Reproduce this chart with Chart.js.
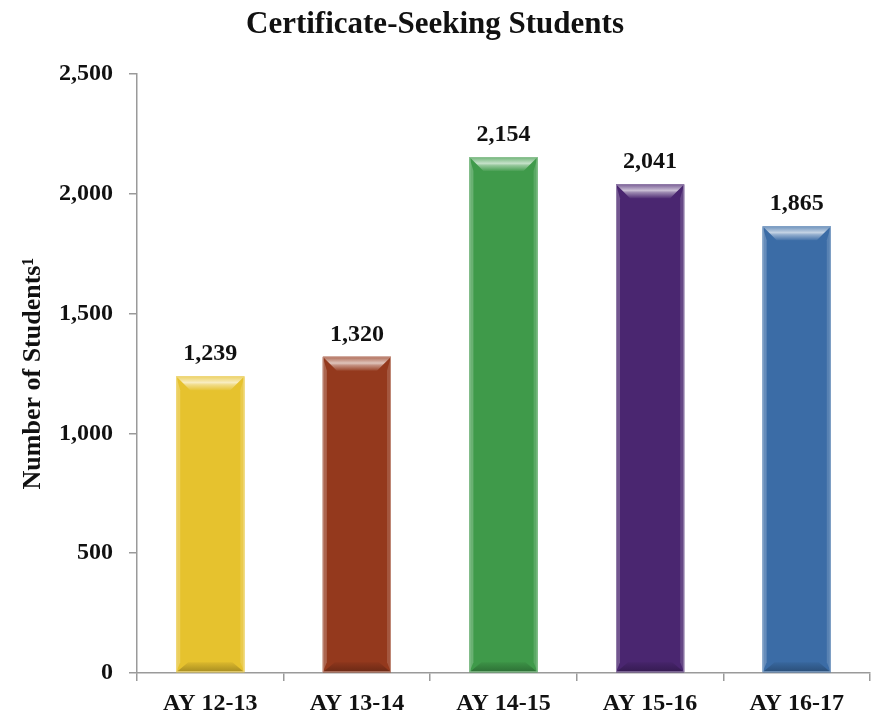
<!DOCTYPE html>
<html>
<head>
<meta charset="utf-8">
<script src="https://cdn.jsdelivr.net/npm/chart.js@4/dist/chart.umd.min.js"></script>
<style>
    html, body { margin: 0; padding: 0; background: #fff; }
    #wrap { width: 875px; height: 717px; position: relative; }
</style>
</head>
<body>
<div id="wrap"><canvas id="certChart"></canvas></div>
<script>
// --- data ---
const years = ['AY 12-13', 'AY 13-14', 'AY 14-15', 'AY 15-16', 'AY 16-17'];
const students = [1239, 1320, 2154, 2041, 1865];
const barColors = ['#E6C22E', '#94391D', '#3F9A4A', '#4A2670', '#3B6CA6'];
const yTicks = [0, 500, 1000, 1500, 2000, 2500];

const serif = '"Liberation Serif", "DejaVu Serif", serif';

// mix hex colour with white (amt > 0) or black (amt < 0)
function shade(hex, amt) {
    const n = parseInt(hex.slice(1), 16);
    let r = n >> 16, g = (n >> 8) & 255, b = n & 255;
    const t = amt > 0 ? 255 : 0, p = Math.abs(amt);
    r = Math.round(r + (t - r) * p);
    g = Math.round(g + (t - g) * p);
    b = Math.round(b + (t - b) * p);
    return `rgb(${r},${g},${b})`;
}

// bevel look on each bar + value labels above
const bevelPlugin = {
    id: 'bevel',
    afterDatasetsDraw(chart) {
        const ctx = chart.ctx;
        const meta = chart.getDatasetMeta(0);
        meta.data.forEach((bar, i) => {
            const col = barColors[i];
            const l = bar.x - bar.width / 2, r = bar.x + bar.width / 2;
            const top = bar.y, bot = bar.base;
            const e = 14, s = 4;
            ctx.save();
            // left / right edges
            ctx.fillStyle = shade(col, 0.22);
            ctx.beginPath();
            ctx.moveTo(l, top); ctx.lineTo(l + s, top + e); ctx.lineTo(l + s, bot - 10); ctx.lineTo(l, bot);
            ctx.fill();
            ctx.fillStyle = shade(col, 0.15);
            ctx.beginPath();
            ctx.moveTo(r, top); ctx.lineTo(r - s, top + e); ctx.lineTo(r - s, bot - 10); ctx.lineTo(r, bot);
            ctx.fill();
            // top bevel with highlight
            const g = ctx.createLinearGradient(0, top, 0, top + e);
            g.addColorStop(0, shade(col, 0.25));
            g.addColorStop(0.45, shade(col, 0.7));
            g.addColorStop(0.6, shade(col, 0.45));
            g.addColorStop(1, shade(col, 0.05));
            ctx.fillStyle = g;
            ctx.beginPath();
            ctx.moveTo(l, top); ctx.lineTo(r, top); ctx.lineTo(r - e, top + e); ctx.lineTo(l + e, top + e);
            ctx.closePath();
            ctx.fill();
            // bottom bevel
            const gb = ctx.createLinearGradient(0, bot - 10, 0, bot);
            gb.addColorStop(0, shade(col, -0.05));
            gb.addColorStop(1, shade(col, -0.28));
            ctx.fillStyle = gb;
            ctx.beginPath();
            ctx.moveTo(l, bot); ctx.lineTo(r, bot); ctx.lineTo(r - 12, bot - 10); ctx.lineTo(l + 12, bot - 10);
            ctx.closePath();
            ctx.fill();
            // thin outline
            ctx.strokeStyle = shade(col, 0.4);
            ctx.lineWidth = 1;
            ctx.strokeRect(l + 0.5, top + 0.5, bar.width - 1, bot - top - 1);
            // value label
            ctx.fillStyle = '#111';
            ctx.font = 'bold 24px ' + serif;
            ctx.textAlign = 'center';
            ctx.textBaseline = 'alphabetic';
            ctx.fillText(students[i].toLocaleString('en-US'), bar.x, top - 16);
            ctx.restore();
        });
    }
};

new Chart(document.getElementById('certChart'), {
    type: 'bar',
    data: {
        labels: years,
        datasets: [{
            data: students,
            backgroundColor: barColors,
            borderWidth: 0,
            barPercentage: 0.465,
            categoryPercentage: 1.0
        }]
    },
    options: {
        responsive: true,
        maintainAspectRatio: false,
        animation: false,
        layout: { padding: { left: 0, right: 5, top: 0, bottom: 0 } },
        plugins: {
            legend: { display: false },
            tooltip: { enabled: false },
            title: {
                display: true,
                text: 'Certificate-Seeking Students',
                color: '#111',
                font: { family: serif, size: 31, weight: 'bold' },
                padding: { top: 6, bottom: 31 }
            }
        },
        scales: {
            y: {
                min: 0,
                max: 2500,
                afterBuildTicks(scale) { scale.ticks = yTicks.map(v => ({ value: v })); },
                afterFit(scale) { scale.width = 137; },
                border: { color: '#9a9a9a', width: 1.5 },
                grid: { drawOnChartArea: false, drawTicks: true, tickLength: 8, color: '#9a9a9a', lineWidth: 1.5 },
                ticks: {
                    color: '#111',
                    padding: 16,
                    font: { family: serif, size: 24, weight: 'bold' },
                    callback: v => v.toLocaleString('en-US')
                },
                title: {
                    display: true,
                    text: 'Number of Students\u00B9',
                    color: '#111',
                    font: { family: serif, size: 26, weight: 'bold' },
                    padding: { top: 18, bottom: 0 }
                }
            },
            x: {
                afterFit(scale) { scale.height = 44; },
                border: { color: '#9a9a9a', width: 1.5 },
                grid: { offset: true, drawOnChartArea: false, drawTicks: true, tickLength: 8, color: '#9a9a9a', lineWidth: 1.5 },
                ticks: {
                    color: '#111',
                    padding: 8,
                    font: { family: serif, size: 24, weight: 'bold' }
                }
            }
        }
    },
    plugins: [bevelPlugin]
});
</script>
</body>
</html>
